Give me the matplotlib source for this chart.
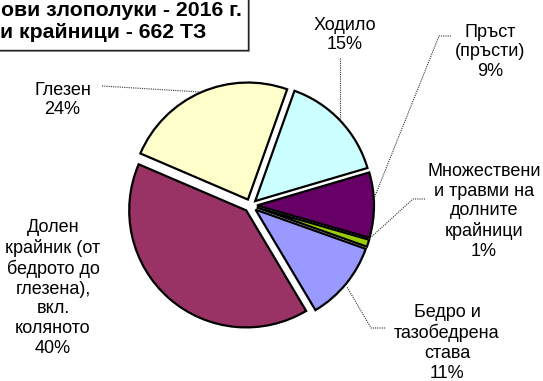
import matplotlib
matplotlib.use("Agg")
import matplotlib.pyplot as plt
from matplotlib.patches import Rectangle

# Injuries of the lower limbs by location, share of all cases
categories = [
    "Ходило",
    "Пръст\n(пръсти)",
    "Множествени\nи травми на\nдолните\nкрайници",
    "Бедро и\nтазобедрена\nстава",
    "Долен\nкрайник (от\nбедрото до\nглезена),\nвкл.\nколяното",
    "Глезен",
]
shares = [15, 9, 1, 11, 40, 24]
colors = ["#CCFFFF", "#660066", "#99CC00", "#9999FF", "#993366", "#FFFFCC"]
title_lines = ["ови злополуки - 2016 г.", "и крайници - 662 ТЗ"]

W, H = 543, 381
plt.rcParams["font.family"] = ["Liberation Sans", "DejaVu Sans"]

fig = plt.figure(figsize=(W / 100, H / 100), dpi=100)
ax = fig.add_axes([0, 0, 1, 1])


def Y(y):
    # convert a top-down pixel row into the axes' upward y coordinate
    return H - y


cx, cy, r = 250.5, 205.5, 117.0
gap = 6.5  # pie explode offset, in data units

ax.pie(
    shares,
    colors=colors,
    startangle=70.4,
    counterclock=False,
    center=(cx, Y(cy)),
    radius=r,
    explode=[gap] * len(shares),
    wedgeprops=dict(edgecolor="black", linewidth=1.6),
    frame=True,
)
ax.set_xlim(0, W)
ax.set_ylim(0, H)
ax.set_aspect("equal")
ax.axis("off")

# category labels with their percentages
label_pos = [
    (345, 35),
    (490, 52),
    (484, 211.5),
    (447, 343),
    (53, 288),
    (62.5, 100),
]
for name, v, (lx, ly) in zip(categories, shares, label_pos):
    ax.text(lx, Y(ly), f"{name}\n{v}%", ha="center", va="center",
            multialignment="center", fontsize=13, linespacing=1.2,
            color="black")

# leader lines from labels to their slices
leaders = [
    [(340, 58), (340, 120)],
    [(451, 36), (439, 36), (373, 201)],
    [(425, 199), (413, 199), (368, 240)],
    [(385, 328), (371, 328), (347, 287)],
    [(102, 86), (200, 92)],
]
for pts in leaders:
    xs = [p[0] for p in pts]
    ys = [Y(p[1]) for p in pts]
    ax.plot(xs, ys, color="#333333", linewidth=0.8, linestyle=(0, (1, 1)))

# title box (with a slight drop shadow)
ax.add_patch(Rectangle((-20 + 1.5, Y(50) - 1.5), 268, 80, facecolor="#9a9a9a",
                       edgecolor="none", zorder=5))
ax.add_patch(Rectangle((-20, Y(50)), 268, 80, facecolor="white",
                       edgecolor="#222222", linewidth=1.0, zorder=6))
ax.text(242, Y(11), title_lines[0], ha="right", va="center", fontsize=15.3,
        fontweight="bold", zorder=7)
ax.text(103, Y(32), title_lines[1], ha="center", va="center", fontsize=15.3,
        fontweight="bold", zorder=7)

fig.savefig("out.png", dpi=100)
